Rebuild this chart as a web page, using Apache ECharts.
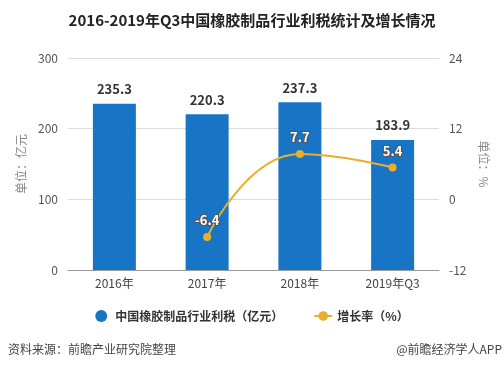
<!DOCTYPE html>
<html><head><meta charset="utf-8">
<script src="https://cdn.jsdelivr.net/npm/echarts@6/dist/echarts.min.js"></script>
<style>html,body{margin:0;padding:0;background:#fff}#c{width:504px;height:370px}</style>
</head><body><div id="c"></div>
<script>
const categories = ['2016年', '2017年', '2018年', '2019年Q3'];
const profitTax = [235.3, 220.3, 237.3, 183.9];
const growthRate = [null, -6.4, 7.7, 5.4];
const leftTicks = [0, 300, 100];
const rightTicks = [-12, 24, 12];

const font = '"Microsoft YaHei","Noto Sans CJK SC",sans-serif';
const chart = echarts.init(document.getElementById('c'));
chart.setOption({
  animation: false,
  textStyle: { fontFamily: font },
  title: {
    text: '2016-2019年Q3中国橡胶制品行业利税统计及增长情况',
    left: 'center', top: 8,
    textStyle: { fontSize: 15, fontWeight: 'bold', color: '#222', fontFamily: font }
  },
  legend: {
    bottom: 43, left: 'center', itemGap: 30, itemWidth: 18, itemHeight: 12,
    textStyle: { fontSize: 12, color: '#333', fontFamily: font, fontWeight: 'bold' },
    data: [
      { name: '中国橡胶制品行业利税（亿元）', icon: 'circle' },
      { name: '增长率（%）' }
    ]
  },
  graphic: [
    { type: 'text', left: 8, top: 343, style: { text: '资料来源：前瞻产业研究院整理', fontSize: 12, fill: '#444', fontFamily: font } },
    { type: 'text', right: 2, top: 343, style: { text: '@前瞻经济学人APP', fontSize: 12, fill: '#444', fontFamily: font } }
  ],
  grid: { left: 68, right: 65, top: 58, bottom: 100 },
  xAxis: {
    type: 'category', data: categories,
    axisLine: { lineStyle: { color: '#999' } },
    axisTick: { alignWithLabel: true, lineStyle: { color: '#999' } },
    axisLabel: { color: '#444', fontSize: 12, margin: 7 }
  },
  yAxis: [
    {
      type: 'value', min: leftTicks[0], max: leftTicks[1], interval: leftTicks[2],
      name: '单位：亿元', nameLocation: 'middle', nameGap: 36, nameRotate: 90,
      nameTextStyle: { color: '#888', fontSize: 12 },
      axisLine: { show: false }, axisTick: { show: false },
      axisLabel: { color: '#555', fontSize: 12, margin: 10 },
      splitLine: { lineStyle: { color: '#dcdcdc' } }
    },
    {
      type: 'value', min: rightTicks[0], max: rightTicks[1], interval: rightTicks[2],
      name: '单位：%', nameLocation: 'middle', nameGap: 32, nameRotate: -90,
      nameTextStyle: { color: '#888', fontSize: 12 },
      axisLine: { show: false }, axisTick: { show: false },
      axisLabel: { color: '#555', fontSize: 12, margin: 10 },
      splitLine: { show: false }
    }
  ],
  series: [
    {
      name: '中国橡胶制品行业利税（亿元）', type: 'bar', data: profitTax, barWidth: 43,
      itemStyle: { color: '#1874C4' },
      label: { show: true, position: 'top', distance: 8, color: '#333', fontWeight: 'bold', fontSize: 13 }
    },
    {
      name: '增长率（%）', type: 'line', yAxisIndex: 1, data: growthRate, smooth: true,
      symbol: 'circle', symbolSize: 8,
      itemStyle: { color: '#E9AE2E' }, lineStyle: { color: '#E9AE2E', width: 2 },
      label: { show: true, position: 'top', distance: 6, color: '#fff', fontWeight: 'bold', fontSize: 13,
        textBorderColor: '#555', textBorderWidth: 2 }
    }
  ]
});
</script></body></html>
